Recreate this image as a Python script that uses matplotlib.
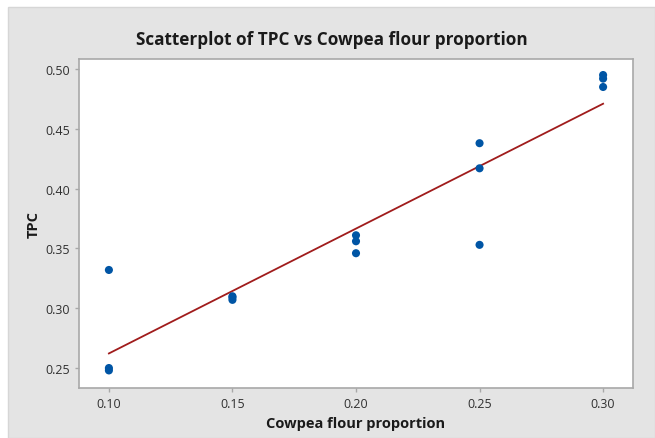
import matplotlib.pyplot as plt
import numpy as np
from matplotlib.patches import Rectangle

plt.rcParams["font.family"] = ["Open Sans", "DejaVu Sans"]

# Cowpea flour proportion levels and measured TPC
cowpea = [0.10, 0.10, 0.10,
          0.15, 0.15, 0.15,
          0.20, 0.20, 0.20,
          0.25, 0.25, 0.25,
          0.30, 0.30, 0.30]
tpc = [0.332, 0.250, 0.248,
       0.310, 0.309, 0.307,
       0.361, 0.356, 0.346,
       0.438, 0.417, 0.353,
       0.495, 0.492, 0.485]

x_ticks = [0.10, 0.15, 0.20, 0.25, 0.30]
y_ticks = [0.25, 0.30, 0.35, 0.40, 0.45, 0.50]

GREY_BG = "#e4e4e4"
SPINE = "#a8a8a8"
DOT = "#0055a5"
LINE = "#a01c1c"

fig = plt.figure(figsize=(6.55, 4.39), dpi=100)
fig.patch.set_facecolor("white")
fig.patches.append(Rectangle((8 / 655, 0), 1 - 8 / 655, 1 - 8 / 439,
                             transform=fig.transFigure, facecolor=GREY_BG,
                             edgecolor="#d6d6d6", linewidth=1, zorder=-10))

ax = fig.add_axes([79 / 655, 1 - 389 / 439, (633 - 79) / 655, (389 - 60) / 439])
ax.set_facecolor("white")

x = np.array(cowpea)
y = np.array(tpc)
slope, intercept = np.polyfit(x, y, 1)
xs = np.array([x.min(), x.max()])
ax.plot(xs, intercept + slope * xs, color=LINE, linewidth=1.3, zorder=2)
ax.scatter(x, y, s=34, color=DOT, edgecolors="none", zorder=3)

ax.set_xlim(0.0879, 0.3121)
ax.set_ylim(0.2333, 0.5084)
ax.set_xticks(x_ticks)
ax.set_xticklabels([f"{v:.2f}" for v in x_ticks])
ax.set_yticks(y_ticks)
ax.set_yticklabels([f"{v:.2f}" for v in y_ticks])
ax.tick_params(colors=SPINE, labelcolor="#303030", labelsize=9, length=3, width=1)
for spine in ax.spines.values():
    spine.set_color(SPINE)
    spine.set_linewidth(1.2)

ax.set_xlabel("Cowpea flour proportion", fontsize=10.5, fontweight="bold", color="#1a1a1a", labelpad=4)
ax.set_ylabel("TPC", fontsize=10.5, fontweight="bold", color="#1a1a1a", labelpad=3)
fig.text(0.507, 1 - 40 / 439, "Scatterplot of TPC vs Cowpea flour proportion",
         ha="center", va="center", fontsize=12.3, fontweight="bold", color="#1a1a1a")

fig.savefig("out.png", dpi=100)
